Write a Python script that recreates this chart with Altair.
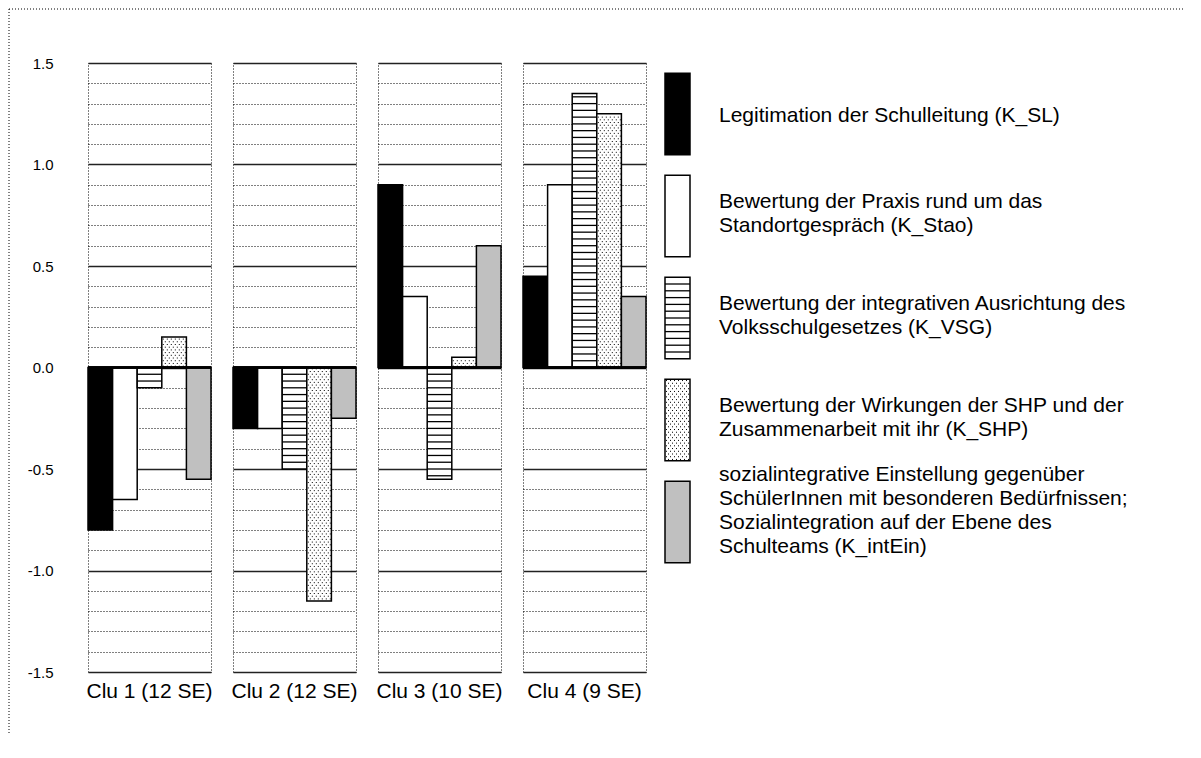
import altair as alt
import pandas as pd

clusters = ["Clu 1 (12 SE)", "Clu 2 (12 SE)", "Clu 3 (10 SE)", "Clu 4 (9 SE)"]
series = ["K_SL", "K_Stao", "K_VSG", "K_SHP", "K_intEin"]

val_K_SL = [-0.80, -0.30, 0.90, 0.45]
val_K_Stao = [-0.65, -0.30, 0.35, 0.90]
val_K_VSG = [-0.10, -0.50, -0.55, 1.35]
val_K_SHP = [0.15, -1.15, 0.05, 1.25]
val_K_intEin = [-0.55, -0.25, 0.60, 0.35]

legend_labels = [
    "Legitimation der Schulleitung (K_SL)",
    "Bewertung der Praxis rund um das\nStandortgespräch (K_Stao)",
    "Bewertung der integrativen Ausrichtung des\nVolksschulgesetzes (K_VSG)",
    "Bewertung der Wirkungen der SHP und der\nZusammenarbeit mit ihr (K_SHP)",
    "sozialintegrative Einstellung gegenüber\nSchülerInnen mit besonderen Bedürfnissen;\nSozialintegration auf der Ebene des\nSchulteams (K_intEin)",
]

y_ticks = [round(-1.5 + 0.1 * k, 1) for k in range(31)]

bar_fills = ["#000000", "#ffffff", "#ffffff", "#ffffff", "#c0c0c0"]
legend_fills = ["#333333", "#ffffff", "#ffffff", "#ffffff", "#c0c0c0"]

values = {
    "K_SL": val_K_SL,
    "K_Stao": val_K_Stao,
    "K_VSG": val_K_VSG,
    "K_SHP": val_K_SHP,
    "K_intEin": val_K_intEin,
}

rows = []
for ci, c in enumerate(clusters):
    for si, s in enumerate(series):
        rows.append({"cluster": c, "series": s, "lo": si, "hi": si + 1, "value": values[s][ci]})
df = pd.DataFrame(rows)

FONT = "Liberation Sans"

xenc = alt.X("lo:Q", scale=alt.Scale(domain=[0, 5], nice=False, zero=False), axis=None)
major = "abs(round(datum.value * 10)) % 5 == 0"
yaxis = alt.Axis(
    values=y_ticks,
    tickCount=len(y_ticks),
    title=None,
    ticks=False,
    domain=False,
    labelOverlap=False,
    labelExpr=f"{major} ? (datum.value < 0 ? '-' : '') + format(abs(datum.value), '.1f') : ''",
    labelFontSize=15,
    labelColor="#000000",
    labelPadding=33,
    grid=True,
    gridColor={"condition": {"test": major, "value": "#222222"}, "value": "#000000"},
    gridDash={"condition": {"test": major, "value": []}, "value": [1, 2]},
    gridWidth={"condition": {"test": major, "value": 1.5}, "value": 1},
    gridOpacity=1,
)
yenc = alt.Y("value:Q", scale=alt.Scale(domain=[-1.5, 1.5], nice=False), axis=yaxis)

bars = alt.Chart().mark_bar(stroke="black", strokeWidth=1.5).encode(
    x=xenc,
    x2="hi:Q",
    y=yenc,
    y2=alt.datum(0),
    fill=alt.Color("series:N", scale=alt.Scale(domain=series, range=bar_fills), legend=None),
)

stripes = (
    alt.Chart()
    .transform_filter("datum.series == 'K_VSG'")
    .transform_calculate(s="sequence(0, datum.value, datum.value > 0 ? 1/30 : -1/30)")
    .transform_flatten(["s"])
    .transform_filter("datum.s != 0")
    .mark_rule(color="black", strokeWidth=1.3)
    .encode(x=xenc, x2="hi:Q", y=alt.Y("s:Q"))
)

ROWS = 75
dots_base = (
    alt.Chart()
    .transform_filter("datum.series == 'K_SHP'")
    .transform_calculate(r=f"sequence(0, floor(abs(datum.value) * {ROWS}))")
    .transform_flatten(["r"])
    .transform_calculate(
        ys=f"(datum.value < 0 ? -1 : 1) * (datum.r + 0.5) / {ROWS}",
        odd="datum.r % 2",
    )
)
dots_even = dots_base.transform_filter("datum.odd == 0").mark_rule(
    color="black", strokeWidth=1, strokeDash=[1, 3], strokeDashOffset=3
).encode(x=xenc, x2="hi:Q", y=alt.Y("ys:Q"))
dots_odd = dots_base.transform_filter("datum.odd == 1").mark_rule(
    color="black", strokeWidth=1, strokeDash=[1, 3], strokeDashOffset=1
).encode(x=xenc, x2="hi:Q", y=alt.Y("ys:Q"))

zero = alt.Chart().mark_rule(color="black", strokeWidth=2).encode(y=alt.datum(0))

panels = (
    alt.layer(bars, stripes, dots_even, dots_odd, zero, data=df)
    .properties(width=123, height=609)
    .facet(
        column=alt.Column(
            "cluster:N",
            sort=clusters,
            header=alt.Header(
                title=None,
                labelOrient="bottom",
                labelFontSize=21,
                labelFont=FONT,
                labelColor="#000000",
                labelPadding=8,
            ),
        ),
        spacing=18,
    )
)

# ---- legend ----
ldf = pd.DataFrame({"series": series, "label": legend_labels, "i": list(range(len(series)))})
ly = alt.Scale(domain=[0, 5], reverse=True, nice=False, zero=False)

lbase = alt.Chart().transform_calculate(
    top="datum.i + 0.1",
    bot="datum.i + 0.9",
    mid="datum.i + 0.5 + (2 - (length(split(datum.label, '\\n')) - 1) * 16.3) / 102",
)
swatch = lbase.mark_rect(stroke="black", strokeWidth=1.5).encode(
    x=alt.value(0),
    x2=alt.value(25),
    y=alt.Y("top:Q", scale=ly, axis=None),
    y2="bot:Q",
    fill=alt.Color("series:N", scale=alt.Scale(domain=series, range=legend_fills), legend=None),
)
lstripes = (
    lbase.transform_filter("datum.series == 'K_VSG'")
    .transform_calculate(s="sequence(datum.top + 1/15, datum.bot - 0.01, 1/15)")
    .transform_flatten(["s"])
    .mark_rule(color="black", strokeWidth=1.3)
    .encode(x=alt.value(0), x2=alt.value(25), y=alt.Y("s:Q", scale=ly))
)
ldots_base = (
    lbase.transform_filter("datum.series == 'K_SHP'")
    .transform_calculate(r="sequence(0, 30)")
    .transform_flatten(["r"])
    .transform_calculate(ys="datum.top + (datum.r + 0.5) / 37.5", odd="datum.r % 2")
)
ldots_even = ldots_base.transform_filter("datum.odd == 0").mark_rule(
    color="black", strokeWidth=1, strokeDash=[1, 3], strokeDashOffset=3
).encode(x=alt.value(0), x2=alt.value(25), y=alt.Y("ys:Q", scale=ly))
ldots_odd = ldots_base.transform_filter("datum.odd == 1").mark_rule(
    color="black", strokeWidth=1, strokeDash=[1, 3], strokeDashOffset=1
).encode(x=alt.value(0), x2=alt.value(25), y=alt.Y("ys:Q", scale=ly))
ltext = lbase.mark_text(
    align="left", baseline="middle", fontSize=21, lineHeight=24, lineBreak="\n",
    font=FONT, color="#000000",
).encode(x=alt.value(54), y=alt.Y("mid:Q", scale=ly), text="label:N")

legend = alt.layer(
    swatch, lstripes, ldots_even, ldots_odd, ltext, data=ldf
).properties(width=480, height=510, view=alt.ViewBackground(stroke=None))

main = alt.hconcat(panels, legend, spacing=16)

# ---- dotted chart-area frame (left and top edges) ----
frame_df = pd.DataFrame({"k": [0]})
frame_left = alt.Chart(frame_df).mark_rule(color="#000000", strokeDash=[1, 2], strokeWidth=1).encode(
    x=alt.value(0), y=alt.value(-54), y2=alt.value(670)
)
frame_top = alt.Chart(frame_df).mark_rule(color="#000000", strokeDash=[1, 2], strokeWidth=1).encode(
    x=alt.value(0), x2=alt.value(1175), y=alt.value(-54)
)
frame = alt.layer(frame_left, frame_top).properties(
    width=57, height=609, view=alt.ViewBackground(stroke=None)
)

chart = (
    alt.hconcat(frame, main, spacing=22, bounds="flush")
    .resolve_scale(color="independent", x="independent", y="independent")
    .properties(padding={"left": 0, "top": 0, "right": 0, "bottom": 0})
    .configure(font=FONT)
    .configure_view(stroke="black", strokeDash=[1, 2], strokeWidth=1)
    .configure_axis(labelFont=FONT)
)

chart.save("out.html", embed_options={"renderer": "svg", "actions": False})
